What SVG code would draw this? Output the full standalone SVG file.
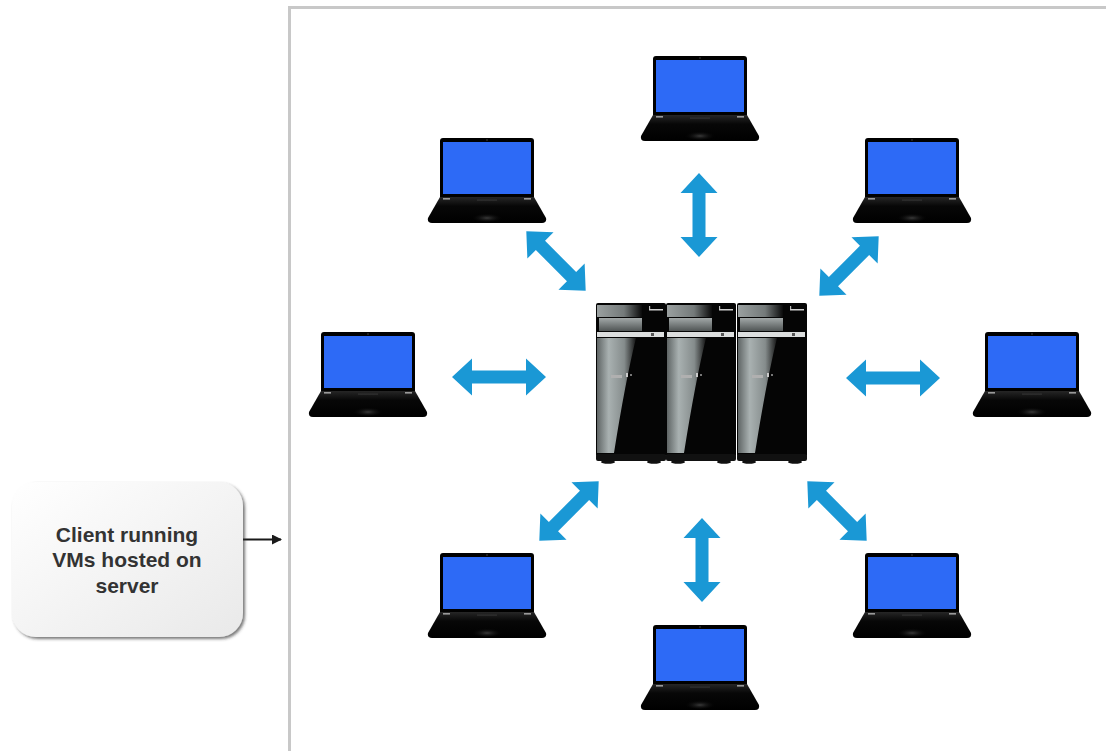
<svg xmlns="http://www.w3.org/2000/svg" xmlns:xlink="http://www.w3.org/1999/xlink" width="1106" height="751" viewBox="0 0 1106 751">
  <style>
    .frame { fill: none; stroke: #c8c8c8; stroke-width: 3; }
    .link { fill: #1a98d5; }
    .label { font-family: "Liberation Sans", Arial, sans-serif; font-weight: bold; font-size: 21px; fill: #333333; text-anchor: middle; }
    .pointer { stroke: #1a1a1a; stroke-width: 2; fill: none; }
  </style>
  <defs>
    <linearGradient id="boxFill" x1="0" y1="0" x2="1" y2="1">
      <stop offset="0" stop-color="#ffffff"/>
      <stop offset="1" stop-color="#e9e9e9"/>
    </linearGradient>
    <filter id="boxShadow" x="-10%" y="-10%" width="125%" height="125%">
      <feDropShadow dx="2" dy="2" stdDeviation="1.6" flood-color="#333333" flood-opacity="0.65"/>
    </filter>
    <linearGradient id="deckFill" x1="0" y1="0" x2="0" y2="1">
      <stop offset="0" stop-color="#262626"/>
      <stop offset="0.35" stop-color="#070707"/>
      <stop offset="1" stop-color="#000000"/>
    </linearGradient>
    <radialGradient id="padGlow" cx="0.5" cy="0.6" r="0.5">
      <stop offset="0" stop-color="#3a3a3a"/>
      <stop offset="1" stop-color="#000000" stop-opacity="0"/>
    </radialGradient>
    <linearGradient id="sweepFill" x1="0" y1="0" x2="1" y2="0">
      <stop offset="0" stop-color="#5f6565"/>
      <stop offset="0.3" stop-color="#a9b1b1"/>
      <stop offset="0.7" stop-color="#858c8c"/>
      <stop offset="1" stop-color="#151515"/>
    </linearGradient>
    <linearGradient id="bayFill" x1="0" y1="0" x2="0" y2="1">
      <stop offset="0" stop-color="#a2a8a8"/>
      <stop offset="1" stop-color="#505555"/>
    </linearGradient>
    <linearGradient id="capFill" x1="0" y1="0" x2="1" y2="0">
      <stop offset="0" stop-color="#9aa0a0"/>
      <stop offset="0.6" stop-color="#747a7a"/>
      <stop offset="1" stop-color="#0a0a0a"/>
    </linearGradient>
    <marker id="tip" viewBox="0 0 10 10" refX="9" refY="5" markerWidth="5" markerHeight="5" orient="auto" markerUnits="strokeWidth">
      <path d="M0,0 L10,5 L0,10 Z" fill="#1a1a1a"/>
    </marker>

    <!-- client laptop, 120 x 85 -->
    <g id="laptop">
      <path d="M13,3 Q13,0 16,0 L104,0 Q107,0 107,3 L107,59 L13,59 Z" fill="#000000"/>
      <rect x="16" y="4" width="88" height="52" fill="#2d6af6"/>
      <circle cx="60" cy="2" r="0.8" fill="#444444"/>
      <path d="M13,59 L107,59 L119,80 Q120,85 115,85 L5,85 Q0,85 1,80 Z" fill="url(#deckFill)"/>
      <rect x="16" y="60" width="7" height="1.6" fill="#9a9a9a"/>
      <rect x="97" y="60" width="7" height="1.6" fill="#9a9a9a"/>
      <rect x="50" y="61.5" width="20" height="1.2" fill="#333333"/>
      <ellipse cx="60" cy="79" rx="16" ry="5" fill="url(#padGlow)"/>
    </g>

    <!-- one server tower, 70 x 160 -->
    <g id="tower">
      <rect x="0" y="0" width="70" height="154" rx="2" fill="#050505"/>
      <path d="M1,2 L46,2 L46,14 L1,14 Z" fill="url(#capFill)"/>
      <rect x="3" y="15" width="43" height="13" fill="url(#bayFill)"/>
      <rect x="1" y="29" width="67" height="5" fill="#dcdede"/>
      <rect x="55" y="30" width="3" height="3" fill="#555555"/>
      <rect x="53" y="6" width="14" height="1.5" fill="#cfcfcf"/>
      <rect x="53" y="3" width="1.2" height="3" fill="#bbbbbb"/>
      <path d="M1,35 L40,35 Q29,80 18,150 L1,150 Z" fill="url(#sweepFill)"/>
      <rect x="15" y="72" width="11" height="3" fill="#b0b0b0"/>
      <rect x="30" y="70" width="2" height="4" fill="#cccccc"/>
      <rect x="34" y="71" width="2" height="2" fill="#777777"/>
      <rect x="0" y="151" width="70" height="7" rx="2" fill="#111111"/>
      <ellipse cx="12" cy="159" rx="7" ry="1.8" fill="#111111"/>
      <ellipse cx="58" cy="159" rx="7" ry="1.8" fill="#111111"/>
    </g>

    <!-- double-headed block arrows, centred on the origin -->
    <path id="link94" d="M-47,0 L-27,-18.5 L-27,-6.5 L27,-6.5 L27,-18.5 L47,0 L27,18.5 L27,6.5 L-27,6.5 L-27,18.5 Z"/>
    <path id="link84" d="M-42,0 L-22,-18.5 L-22,-6.5 L22,-6.5 L22,-18.5 L42,0 L22,18.5 L22,6.5 L-22,6.5 L-22,18.5 Z"/>
  </defs>

  <rect width="1106" height="751" fill="#ffffff"/>

  <!-- network area frame -->
  <path class="frame" d="M289.5,751 L289.5,7.5 L1106,7.5"/>

  <!-- server cluster -->
  <g id="server">
    <use xlink:href="#tower" x="596" y="303"/>
    <use xlink:href="#tower" x="666" y="303"/>
    <use xlink:href="#tower" x="737" y="303"/>
  </g>

  <!-- clients -->
  <g id="client-top"><use xlink:href="#laptop" x="640" y="56"/></g>
  <g id="client-upper-left"><use xlink:href="#laptop" x="427" y="138"/></g>
  <g id="client-upper-right"><use xlink:href="#laptop" x="852" y="138"/></g>
  <g id="client-left"><use xlink:href="#laptop" x="308" y="332"/></g>
  <g id="client-right"><use xlink:href="#laptop" x="972" y="332"/></g>
  <g id="client-lower-left"><use xlink:href="#laptop" x="427" y="553"/></g>
  <g id="client-lower-right"><use xlink:href="#laptop" x="852" y="553"/></g>
  <g id="client-bottom"><use xlink:href="#laptop" x="640" y="625"/></g>

  <!-- connectors -->
  <g id="connectors" class="link">
    <use xlink:href="#link94" transform="translate(499,377)"/>
    <use xlink:href="#link94" transform="translate(893,378)"/>
    <use xlink:href="#link84" transform="translate(699,215) rotate(90)"/>
    <use xlink:href="#link84" transform="translate(702,560) rotate(90)"/>
    <use xlink:href="#link84" transform="translate(556,261) rotate(45)"/>
    <use xlink:href="#link84" transform="translate(849,266) rotate(-45)"/>
    <use xlink:href="#link84" transform="translate(569,511) rotate(-45)"/>
    <use xlink:href="#link84" transform="translate(837,511) rotate(45)"/>
    <line class="pointer" x1="243" y1="539.5" x2="281" y2="539.5" marker-end="url(#tip)"/>
  </g>

  <!-- caption box -->
  <g id="caption">
    <rect x="12" y="482" width="231" height="155" rx="24" fill="url(#boxFill)" filter="url(#boxShadow)"/>
    <text class="label" x="127" y="542">Client running</text>
    <text class="label" x="127" y="567">VMs hosted on</text>
    <text class="label" x="127" y="593">server</text>
  </g>
</svg>
